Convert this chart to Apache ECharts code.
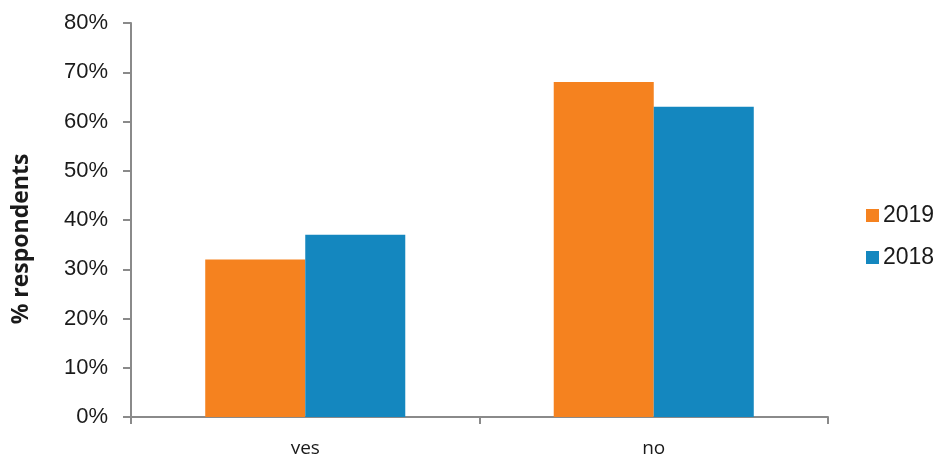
<!DOCTYPE html>
<html><head><meta charset="utf-8">
<script src="https://cdn.jsdelivr.net/npm/echarts@6/dist/echarts.min.js"></script>
<style>html,body{margin:0;padding:0;background:#fff}#c{width:939px;height:454px}</style>
</head><body><div id="c"></div>
<script>
const categories = ['yes', 'no'];
const series2019 = [32, 68];
const series2018 = [37, 63];
const seriesNames = ['2019', '2018'];
const yTicks = [0, 10, 20, 30, 40, 50, 60, 70, 80];
const yAxisTitle = '% respondents';

const chart = echarts.init(document.getElementById('c'), null, {renderer: 'canvas'});
const axisColor = '#8a8a8a';
chart.setOption({
  animation: false,
  backgroundColor: '#fff',
  grid: {left: 131, right: 111, top: 23, bottom: 37, containLabel: false, outerBoundsMode: 'none'},
  legend: {
    orient: 'vertical', left: 866, top: 204, icon: 'rect', padding: 0,
    itemWidth: 13, itemHeight: 13, itemGap: 19,
    textStyle: {fontFamily: 'Liberation Sans, Arial, sans-serif', fontSize: 23, color: '#1a1a1a', padding: [0,0,0,-1]},
    data: seriesNames
  },
  graphic: [{
    type: 'text', x: 21, y: 239, rotation: Math.PI / 2,
    style: {text: yAxisTitle, fontFamily: 'Open Sans, sans-serif', fontWeight: 'bold', fontSize: 23,
      fill: '#1a1a1a', textAlign: 'center', textVerticalAlign: 'middle'}
  }],
  xAxis: {
    type: 'category', data: categories,
    axisLine: {lineStyle: {color: axisColor, width: 2}},
    axisTick: {show: true, alignWithLabel: false, length: 7, lineStyle: {color: axisColor, width: 2}},
    axisLabel: {margin: 22, fontFamily: 'Open Sans, sans-serif', fontSize: 19, color: '#1a1a1a'}
  },
  yAxis: {
    type: 'value', min: yTicks[0], max: yTicks[yTicks.length-1], interval: 10,
    axisLine: {show: true, lineStyle: {color: axisColor, width: 2}},
    axisTick: {show: true, length: 8, lineStyle: {color: axisColor, width: 2}},
    splitLine: {show: false},
    axisLabel: {margin: 23, fontFamily: 'Liberation Sans, Arial, sans-serif', fontSize: 22, color: '#1a1a1a', formatter: v => v + '%'}
  },
  series: [
    {name: seriesNames[0], type: 'bar', data: series2019, barGap: '0%', barCategoryGap: '42.6%', itemStyle: {color: '#F5821F'}},
    {name: seriesNames[1], type: 'bar', data: series2018, barGap: '0%', barCategoryGap: '42.6%', itemStyle: {color: '#1487BF'}}
  ]
});
</script></body></html>
